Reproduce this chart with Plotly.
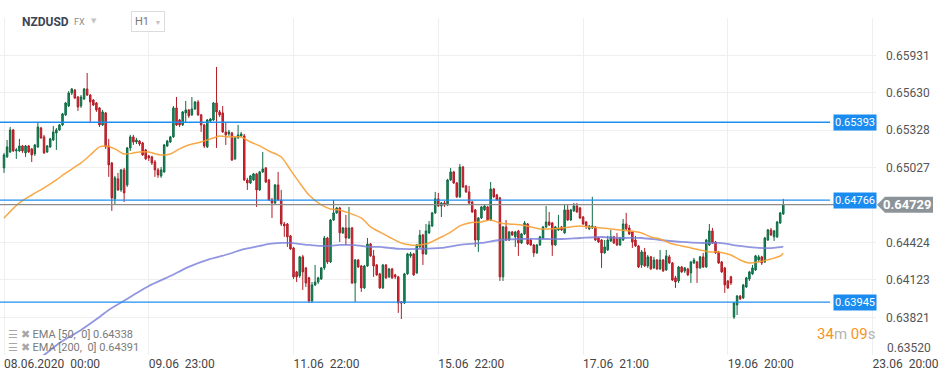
import plotly.graph_objects as go

# ---------------- data ----------------
open_ = [
    0.65025, 0.65114, 0.65154, 0.65331, 0.65162, 0.65162, 0.65202, 0.65146, 0.65202, 0.65178,
    0.65138, 0.65194, 0.65347, 0.65275, 0.65154, 0.65194, 0.65250, 0.65307, 0.65331, 0.65371,
    0.65452, 0.65524, 0.65628, 0.65652, 0.65596, 0.65524, 0.65580, 0.65661, 0.65612, 0.65572,
    0.65548, 0.65508, 0.65371, 0.65468, 0.65202, 0.65065, 0.64776, 0.64937, 0.64848, 0.65009,
    0.64888, 0.65186, 0.65275, 0.65234, 0.65242, 0.65226, 0.65170, 0.65122, 0.65114, 0.65073,
    0.65009, 0.64961, 0.64993, 0.65202, 0.65234, 0.65275, 0.65508, 0.65411, 0.65371, 0.65468,
    0.65492, 0.65452, 0.65500, 0.65556, 0.65452, 0.65371, 0.65194, 0.65403, 0.65411, 0.65548,
    0.65476, 0.65468, 0.65315, 0.65299, 0.65307, 0.65098, 0.65267, 0.65283, 0.65283, 0.64928,
    0.64904, 0.64928, 0.64977, 0.64848, 0.64993, 0.65025, 0.64928, 0.64767, 0.64743, 0.64888,
    0.64767, 0.64574, 0.64574, 0.64478, 0.64381, 0.64188, 0.64156, 0.64309, 0.64220, 0.64140,
    0.63954, 0.64083, 0.64107, 0.64131, 0.64220, 0.64461, 0.64268, 0.64606, 0.64663, 0.64703,
    0.64502, 0.64542, 0.64461, 0.64542, 0.64099, 0.64284, 0.64236, 0.64059, 0.64236, 0.64413,
    0.64317, 0.64244, 0.64172, 0.64059, 0.64244, 0.64148, 0.64212, 0.64164, 0.64148, 0.63946,
    0.63938, 0.64172, 0.64317, 0.64333, 0.64180, 0.64389, 0.64485, 0.64333, 0.64502, 0.64558,
    0.64663, 0.64776, 0.64719, 0.64743, 0.64727, 0.64928, 0.64993, 0.64904, 0.64792, 0.65033,
    0.64880, 0.64832, 0.64751, 0.64687, 0.64445, 0.64622, 0.64687, 0.64711, 0.64606, 0.64856,
    0.64808, 0.64784, 0.64148, 0.64550, 0.64445, 0.64510, 0.64470, 0.64518, 0.64421, 0.64494,
    0.64574, 0.64445, 0.64405, 0.64341, 0.64405, 0.64461, 0.64550, 0.64590, 0.64582, 0.64405,
    0.64526, 0.64550, 0.64502, 0.64687, 0.64606, 0.64679, 0.64719, 0.64703, 0.64630, 0.64590,
    0.64534, 0.64542, 0.64550, 0.64461, 0.64445, 0.64341, 0.64365, 0.64437, 0.64470, 0.64453,
    0.64405, 0.64445, 0.64574, 0.64542, 0.64510, 0.64445, 0.64397, 0.64244, 0.64349, 0.64236,
    0.64309, 0.64220, 0.64284, 0.64212, 0.64284, 0.64204, 0.64309, 0.64260, 0.64140, 0.64115,
    0.64228, 0.64196, 0.64212, 0.64180, 0.64260, 0.64268, 0.64220, 0.64309, 0.64228, 0.64405,
    0.64518, 0.64429, 0.64349, 0.64268, 0.64220, 0.64115, 0.64148, 0.63825, 0.63922, 0.63994,
    0.63978, 0.64067, 0.64131, 0.64172, 0.64204, 0.64284, 0.64309, 0.64268, 0.64445, 0.64526,
    0.64470, 0.64470, 0.64582, 0.64655,
]
high = [
    0.65146, 0.65250, 0.65355, 0.65339, 0.65186, 0.65259, 0.65210, 0.65210, 0.65210, 0.65186,
    0.65218, 0.65395, 0.65355, 0.65291, 0.65210, 0.65267, 0.65363, 0.65347, 0.65379, 0.65468,
    0.65556, 0.65644, 0.65669, 0.65661, 0.65604, 0.65612, 0.65669, 0.65789, 0.65620, 0.65580,
    0.65556, 0.65516, 0.65492, 0.65476, 0.65259, 0.65073, 0.64961, 0.64985, 0.65017, 0.65025,
    0.65194, 0.65291, 0.65291, 0.65267, 0.65250, 0.65234, 0.65178, 0.65130, 0.65122, 0.65089,
    0.65025, 0.65033, 0.65218, 0.65250, 0.65283, 0.65524, 0.65596, 0.65419, 0.65484, 0.65564,
    0.65500, 0.65596, 0.65564, 0.65572, 0.65460, 0.65379, 0.65419, 0.65427, 0.65556, 0.65838,
    0.65492, 0.65524, 0.65395, 0.65331, 0.65315, 0.65275, 0.65371, 0.65315, 0.65299, 0.64945,
    0.64969, 0.64985, 0.64985, 0.65001, 0.65154, 0.65033, 0.64937, 0.64784, 0.64896, 0.64993,
    0.64848, 0.64590, 0.64582, 0.64485, 0.64389, 0.64196, 0.64317, 0.64325, 0.64228, 0.64148,
    0.64107, 0.64244, 0.64148, 0.64228, 0.64478, 0.64470, 0.64614, 0.64767, 0.64711, 0.64711,
    0.64550, 0.64647, 0.64711, 0.64550, 0.64292, 0.64292, 0.64244, 0.64244, 0.64461, 0.64421,
    0.64365, 0.64252, 0.64180, 0.64252, 0.64252, 0.64220, 0.64220, 0.64172, 0.64156, 0.63954,
    0.64180, 0.64341, 0.64349, 0.64341, 0.64413, 0.64526, 0.64494, 0.64574, 0.64598, 0.64671,
    0.64832, 0.64824, 0.64751, 0.64759, 0.64937, 0.65025, 0.65001, 0.64912, 0.65057, 0.65041,
    0.64888, 0.64880, 0.64759, 0.64695, 0.64630, 0.64719, 0.64727, 0.64719, 0.64912, 0.64864,
    0.64816, 0.64792, 0.64558, 0.64606, 0.64518, 0.64518, 0.64518, 0.64526, 0.64502, 0.64598,
    0.64582, 0.64453, 0.64413, 0.64413, 0.64478, 0.64558, 0.64719, 0.64671, 0.64590, 0.64558,
    0.64647, 0.64558, 0.64727, 0.64727, 0.64695, 0.64743, 0.64743, 0.64711, 0.64638, 0.64598,
    0.64566, 0.64792, 0.64558, 0.64470, 0.64453, 0.64445, 0.64478, 0.64526, 0.64478, 0.64502,
    0.64470, 0.64614, 0.64663, 0.64566, 0.64518, 0.64478, 0.64405, 0.64365, 0.64381, 0.64325,
    0.64317, 0.64309, 0.64292, 0.64365, 0.64292, 0.64365, 0.64325, 0.64268, 0.64156, 0.64236,
    0.64236, 0.64228, 0.64220, 0.64276, 0.64301, 0.64276, 0.64317, 0.64341, 0.64453, 0.64574,
    0.64542, 0.64437, 0.64357, 0.64276, 0.64228, 0.64123, 0.64156, 0.63946, 0.64002, 0.64002,
    0.64091, 0.64148, 0.64196, 0.64244, 0.64325, 0.64325, 0.64317, 0.64470, 0.64534, 0.64542,
    0.64526, 0.64598, 0.64671, 0.64776,
]
low = [
    0.64985, 0.65106, 0.65146, 0.65154, 0.65098, 0.65154, 0.65146, 0.65114, 0.65146, 0.65073,
    0.65122, 0.65186, 0.65259, 0.65138, 0.65146, 0.65186, 0.65242, 0.65170, 0.65323, 0.65363,
    0.65444, 0.65516, 0.65612, 0.65580, 0.65484, 0.65508, 0.65572, 0.65604, 0.65395, 0.65524,
    0.65476, 0.65355, 0.65363, 0.65178, 0.64953, 0.64679, 0.64727, 0.64840, 0.64832, 0.64751,
    0.64872, 0.65162, 0.65210, 0.65218, 0.65202, 0.65122, 0.65089, 0.65081, 0.65049, 0.64953,
    0.64945, 0.64945, 0.64985, 0.65194, 0.65226, 0.65267, 0.65363, 0.65355, 0.65363, 0.65395,
    0.65428, 0.65444, 0.65492, 0.65444, 0.65315, 0.65186, 0.65186, 0.65387, 0.65403, 0.65186,
    0.65436, 0.65307, 0.65210, 0.65283, 0.65081, 0.65089, 0.65259, 0.65275, 0.64920, 0.64848,
    0.64896, 0.64920, 0.64711, 0.64840, 0.64985, 0.64904, 0.64759, 0.64622, 0.64735, 0.64759,
    0.64558, 0.64470, 0.64389, 0.64365, 0.64131, 0.64107, 0.64140, 0.64043, 0.64067, 0.63938,
    0.63938, 0.64075, 0.64091, 0.64123, 0.64204, 0.64252, 0.64260, 0.64598, 0.64655, 0.64429,
    0.64494, 0.64405, 0.64453, 0.64091, 0.63946, 0.64220, 0.64027, 0.64051, 0.64228, 0.64309,
    0.64148, 0.64156, 0.64051, 0.64051, 0.64131, 0.64140, 0.64131, 0.64131, 0.63858, 0.63809,
    0.63930, 0.64164, 0.64301, 0.64156, 0.64172, 0.64381, 0.64244, 0.64325, 0.64494, 0.64550,
    0.64655, 0.64711, 0.64630, 0.64711, 0.64719, 0.64920, 0.64896, 0.64784, 0.64784, 0.64864,
    0.64824, 0.64735, 0.64663, 0.64389, 0.64349, 0.64614, 0.64679, 0.64598, 0.64598, 0.64784,
    0.64759, 0.64115, 0.64115, 0.64437, 0.64437, 0.64478, 0.64389, 0.64317, 0.64413, 0.64485,
    0.64405, 0.64397, 0.64309, 0.64333, 0.64397, 0.64453, 0.64542, 0.64558, 0.64317, 0.64397,
    0.64518, 0.64518, 0.64494, 0.64598, 0.64598, 0.64671, 0.64663, 0.64614, 0.64566, 0.64534,
    0.64526, 0.64534, 0.64437, 0.64421, 0.64220, 0.64333, 0.64357, 0.64429, 0.64413, 0.64397,
    0.64397, 0.64437, 0.64526, 0.64485, 0.64381, 0.64389, 0.64220, 0.64220, 0.64228, 0.64220,
    0.64204, 0.64212, 0.64204, 0.64204, 0.64188, 0.64196, 0.64252, 0.64115, 0.64059, 0.64099,
    0.64180, 0.64180, 0.64156, 0.64099, 0.64252, 0.64099, 0.64212, 0.64220, 0.64220, 0.64397,
    0.64413, 0.64333, 0.64252, 0.64180, 0.64019, 0.64051, 0.64083, 0.63809, 0.63841, 0.63962,
    0.63970, 0.64059, 0.64115, 0.64164, 0.64196, 0.64268, 0.64244, 0.64260, 0.64437, 0.64478,
    0.64437, 0.64461, 0.64574, 0.64647,
]
close = [
    0.65130, 0.65194, 0.65331, 0.65162, 0.65170, 0.65202, 0.65162, 0.65202, 0.65154, 0.65130,
    0.65210, 0.65355, 0.65267, 0.65146, 0.65202, 0.65259, 0.65315, 0.65331, 0.65371, 0.65460,
    0.65548, 0.65628, 0.65661, 0.65588, 0.65516, 0.65596, 0.65661, 0.65612, 0.65556, 0.65532,
    0.65492, 0.65371, 0.65476, 0.65194, 0.65049, 0.64784, 0.64945, 0.64848, 0.65009, 0.64824,
    0.65186, 0.65275, 0.65234, 0.65250, 0.65218, 0.65130, 0.65098, 0.65106, 0.65065, 0.65009,
    0.64969, 0.65009, 0.65210, 0.65242, 0.65275, 0.65508, 0.65371, 0.65371, 0.65476, 0.65492,
    0.65444, 0.65500, 0.65556, 0.65452, 0.65371, 0.65202, 0.65411, 0.65419, 0.65548, 0.65476,
    0.65452, 0.65315, 0.65291, 0.65315, 0.65089, 0.65267, 0.65291, 0.65299, 0.64928, 0.64904,
    0.64961, 0.64977, 0.64848, 0.64993, 0.65017, 0.64912, 0.64767, 0.64743, 0.64888, 0.64767,
    0.64574, 0.64558, 0.64470, 0.64373, 0.64148, 0.64148, 0.64309, 0.64188, 0.64099, 0.63954,
    0.64083, 0.64107, 0.64140, 0.64220, 0.64461, 0.64268, 0.64606, 0.64663, 0.64703, 0.64502,
    0.64542, 0.64461, 0.64542, 0.64099, 0.64284, 0.64228, 0.64059, 0.64236, 0.64413, 0.64317,
    0.64236, 0.64164, 0.64059, 0.64244, 0.64140, 0.64212, 0.64140, 0.64148, 0.63938, 0.63938,
    0.64172, 0.64333, 0.64333, 0.64164, 0.64405, 0.64485, 0.64333, 0.64518, 0.64566, 0.64663,
    0.64776, 0.64719, 0.64743, 0.64727, 0.64928, 0.64993, 0.64904, 0.64792, 0.65033, 0.64872,
    0.64832, 0.64743, 0.64671, 0.64445, 0.64622, 0.64711, 0.64719, 0.64606, 0.64856, 0.64792,
    0.64767, 0.64148, 0.64550, 0.64445, 0.64510, 0.64485, 0.64510, 0.64421, 0.64494, 0.64582,
    0.64413, 0.64405, 0.64341, 0.64405, 0.64470, 0.64550, 0.64590, 0.64566, 0.64405, 0.64550,
    0.64542, 0.64526, 0.64687, 0.64606, 0.64687, 0.64719, 0.64671, 0.64622, 0.64574, 0.64558,
    0.64558, 0.64558, 0.64445, 0.64429, 0.64341, 0.64389, 0.64445, 0.64470, 0.64421, 0.64405,
    0.64461, 0.64574, 0.64534, 0.64494, 0.64429, 0.64397, 0.64228, 0.64349, 0.64236, 0.64309,
    0.64212, 0.64284, 0.64212, 0.64284, 0.64196, 0.64317, 0.64260, 0.64123, 0.64107, 0.64228,
    0.64188, 0.64220, 0.64164, 0.64268, 0.64284, 0.64220, 0.64309, 0.64228, 0.64445, 0.64518,
    0.64421, 0.64341, 0.64260, 0.64188, 0.64083, 0.64059, 0.64099, 0.63938, 0.63994, 0.63970,
    0.64083, 0.64140, 0.64188, 0.64220, 0.64317, 0.64309, 0.64260, 0.64461, 0.64526, 0.64485,
    0.64518, 0.64590, 0.64663, 0.64729,
]

ema50_bar = [0, 5, 9, 13, 17, 20, 25, 28, 31, 33, 36, 39, 42, 44, 47, 51, 54, 57, 60, 64,
             67, 70, 73, 77, 80, 83, 86, 90, 93, 96, 99, 103, 106, 109, 112, 116, 119, 122,
             125, 129, 132, 135, 138, 142, 145, 148, 151, 155, 158, 161, 164, 168, 171, 174,
             177, 181, 184, 187, 190, 194, 197, 200, 203, 207, 210, 213, 216, 220, 223, 226,
             229, 232, 236, 239, 242, 245, 249, 252, 253]
ema50_val = [0.64622, 0.64743, 0.64807, 0.64864, 0.64928, 0.64984, 0.65065, 0.65129, 0.65194,
             0.65202, 0.65178, 0.65137, 0.65145, 0.65153, 0.65153, 0.65129, 0.65137, 0.65178,
             0.65210, 0.65234, 0.65258, 0.65282, 0.65274, 0.65274, 0.65234, 0.65202, 0.65161,
             0.65113, 0.65009, 0.64904, 0.64807, 0.64727, 0.64695, 0.64687, 0.64662, 0.64622,
             0.64550, 0.64509, 0.64469, 0.64421, 0.64405, 0.64405, 0.64421, 0.64469, 0.64509,
             0.64558, 0.64582, 0.64590, 0.64606, 0.64582, 0.64574, 0.64566, 0.64550, 0.64534,
             0.64534, 0.64542, 0.64550, 0.64558, 0.64550, 0.64542, 0.64534, 0.64526, 0.64518,
             0.64501, 0.64469, 0.64453, 0.64421, 0.64397, 0.64381, 0.64365, 0.64349, 0.64349,
             0.64324, 0.64284, 0.64260, 0.64268, 0.64292, 0.64316, 0.64338]

ema200_bar = [8, 13, 18, 25, 31, 34, 41, 47, 54, 60, 67, 73, 77, 80, 83, 86, 90, 93, 96, 99,
              103, 106, 109, 112, 116, 119, 122, 125, 129, 135, 142, 148, 155, 161, 168, 174,
              181, 187, 194, 200, 207, 213, 220, 226, 232, 239, 245, 250, 253]
ema200_val = [0.63439, 0.63519, 0.63616, 0.63721, 0.63825, 0.63882, 0.63986, 0.64075, 0.64155,
              0.64228, 0.64292, 0.64332, 0.64365, 0.64381, 0.64397, 0.64413, 0.64421, 0.64421,
              0.64413, 0.64405, 0.64397, 0.64397, 0.64405, 0.64405, 0.64397, 0.64389, 0.64389,
              0.64381, 0.64373, 0.64373, 0.64381, 0.64405, 0.64421, 0.64445, 0.64453, 0.64453,
              0.64453, 0.64461, 0.64469, 0.64461, 0.64461, 0.64445, 0.64429, 0.64421, 0.64421,
              0.64397, 0.64381, 0.64381, 0.64391]

level_prices = [0.65393, 0.64766, 0.63945]
current_price = 0.64729
ytick_vals = [0.65931, 0.65630, 0.65328, 0.65027, 0.64424, 0.64123, 0.63821]
ytick_bottom = 0.63520
xtick_bar = [0, 47, 94, 141, 188, 235, 282]
xtick_text = ["08.06.2020\u00a0\u00a000:00", "09.06\u00a0\u00a023:00", "11.06\u00a0\u00a022:00",
              "15.06\u00a0\u00a022:00", "17.06\u00a0\u00a021:00", "19.06\u00a0\u00a020:00",
              "23.06\u00a0\u00a020:00"]
ema50_last = 0.64338
ema200_last = 0.64391

# ---------------- figure ----------------
W, H = 945, 380
ML, MR, MT, MB = 0, 69, 18, 25
PW = W - ML - MR
PH = H - MT - MB
YMIN, YMAX = 0.63519, 0.66232
px_per_price = PH / (YMAX - YMIN)

def xp(px):  # pixel -> paper x
    return (px - ML) / PW

def yp(py):  # pixel -> paper y
    return (H - MB - py) / PH

FONT = "Roboto, 'Open Sans', sans-serif"
bars = list(range(len(close)))

fig = go.Figure()
# EMA lines first so that the candles sit on top of them, as in the reference
fig.add_trace(go.Scatter(
    x=ema200_bar, y=ema200_val, mode="lines",
    line=dict(color="rgba(118,124,218,0.8)", width=1.8, shape="spline", smoothing=0.8),
    showlegend=False, hoverinfo="skip",
))
fig.add_trace(go.Scatter(
    x=ema50_bar, y=ema50_val, mode="lines",
    line=dict(color="rgba(247,158,50,0.9)", width=1.5, shape="spline", smoothing=0.8),
    showlegend=False, hoverinfo="skip",
))
fig.add_trace(go.Candlestick(
    x=bars, open=open_, high=high, low=low, close=close,
    increasing=dict(line=dict(color="#0e6b44", width=1), fillcolor="#178a5a"),
    decreasing=dict(line=dict(color="#b01d27", width=1), fillcolor="#dd2834"),
    whiskerwidth=0, showlegend=False, hoverinfo="skip",
))

shapes = []
annotations = []

# horizontal levels with blue labels
for lv in level_prices:
    shapes.append(dict(type="line", xref="paper", yref="y", x0=0, x1=xp(830), y0=lv, y1=lv,
                       line=dict(color="#1f8ef1", width=1.4), layer="above"))
    annotations.append(dict(xref="paper", yref="y", x=xp(877), y=lv, xanchor="right",
                            yanchor="middle", text=f"{lv:.5f}", showarrow=False,
                            bgcolor="#1a8cf0", borderpad=1,
                            font=dict(family=FONT, size=11, color="white")))

# current price line + grey pointer label
shapes.append(dict(type="line", xref="paper", yref="y", x0=0, x1=1, y0=current_price,
                   y1=current_price, line=dict(color="#8c8c8c", width=1.2), layer="above"))
dy = 8 / px_per_price
shapes.append(dict(type="path", xref="paper", yref="y", layer="above",
                   path=(f"M {xp(877)},{current_price} L {xp(885)},{current_price + dy} "
                         f"L {xp(933)},{current_price + dy} L {xp(933)},{current_price - dy} "
                         f"L {xp(885)},{current_price - dy} Z"),
                   fillcolor="#8d9499", line=dict(width=0)))
annotations.append(dict(xref="paper", yref="y", x=xp(907), y=current_price, xanchor="center",
                        yanchor="middle", text=f"<b>{current_price:.5f}</b>", showarrow=False,
                        font=dict(family=FONT, size=13, color="white")))

# bottom y label, lifted inside the plot like the reference
annotations.append(dict(xref="paper", yref="paper", x=xp(885), y=yp(348), xanchor="left",
                        yanchor="middle", text=f"{ytick_bottom:.5f}", showarrow=False,
                        font=dict(family=FONT, size=12, color="#555555")))

# header
annotations += [
    dict(xref="paper", yref="paper", x=xp(20), y=yp(22), xanchor="left", yanchor="middle",
         text="<b>NZDUSD</b>", showarrow=False, font=dict(family=FONT, size=12, color="#3b4656")),
    dict(xref="paper", yref="paper", x=xp(72), y=yp(22), xanchor="left", yanchor="middle",
         text="FX", showarrow=False, font=dict(family=FONT, size=9, color="#8a8a8a")),
    dict(xref="paper", yref="paper", x=xp(89), y=yp(21), xanchor="left", yanchor="middle",
         text="▼", showarrow=False, font=dict(family="DejaVu Sans", size=7, color="#c4c4c4")),
    dict(xref="paper", yref="paper", x=xp(131), y=yp(22), xanchor="left", yanchor="middle",
         text="H1 &nbsp;<span style='color:#c4c4c4;font-size:7px'>▼</span>", showarrow=False,
         bgcolor="white", bordercolor="#dcdcdc", borderwidth=1, borderpad=3,
         font=dict(family=FONT, size=11, color="#777777")),
]

# indicator legend (bottom-left)
for row_y, label, val in [(334.5, "EMA [50,\u00a0\u00a00]", ema50_last),
                          (347.5, "EMA [200,\u00a0\u00a00]", ema200_last)]:
    annotations.append(dict(
        xref="paper", yref="paper", x=xp(6), y=yp(row_y), xanchor="left", yanchor="middle",
        showarrow=False,
        text=(f"<span style='color:#a8a8a8'>☰ ✖</span> "
              f"<span style='color:#7a7a7a'>{label} {val:.5f}</span>"),
        font=dict(family=FONT, size=11, color="#7a7a7a")))

# countdown timer
annotations.append(dict(
    xref="paper", yref="paper", x=xp(877), y=yp(334), xanchor="right", yanchor="middle",
    showarrow=False,
    text=("<span style='color:#f7941d'>34</span><span style='color:#b4b4b4'>m</span> "
          "<span style='color:#f7941d'>09</span><span style='color:#b4b4b4'>s</span>"),
    font=dict(family=FONT, size=15)))

fig.update_layout(
    width=W, height=H,
    margin=dict(l=ML, r=MR, t=MT, b=MB, pad=0),
    paper_bgcolor="white", plot_bgcolor="white",
    font=dict(family=FONT),
    showlegend=False,
    shapes=shapes,
    annotations=annotations,
    xaxis=dict(range=[-1.3, 283.1], tickmode="array", tickvals=xtick_bar, ticktext=xtick_text,
               ticklabelposition="outside right", ticks="", showline=False, zeroline=False,
               showgrid=True, gridcolor="#efefef", gridwidth=1,
               tickfont=dict(family=FONT, size=12, color="#454545"),
               rangeslider=dict(visible=False), fixedrange=True),
    yaxis=dict(side="right", range=[YMIN, YMAX], tickmode="array", tickvals=ytick_vals,
               ticktext=[f"{v:.5f}" for v in ytick_vals], ticks="", showline=False,
               zeroline=False, showgrid=True, gridcolor="#efefef", gridwidth=1,
               ticklabelstandoff=9,
               tickfont=dict(family=FONT, size=12, color="#555555"), fixedrange=True),
)

fig.write_html("out.html", config={"displayModeBar": False},
               post_script="document.body.style.margin='0px';")
